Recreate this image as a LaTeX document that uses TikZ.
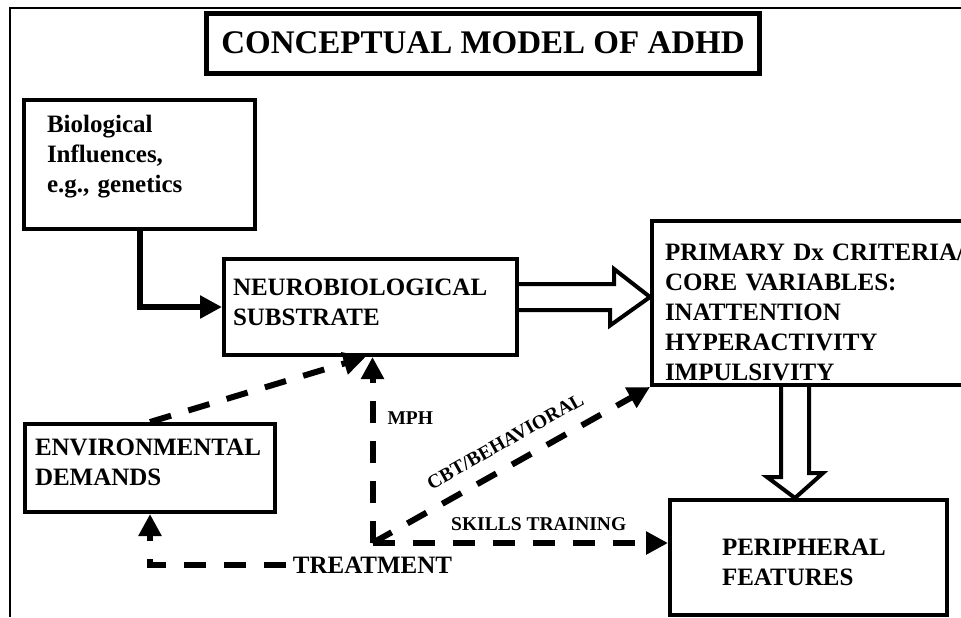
\documentclass[tikz,border=0pt]{standalone}
\usepackage{fontspec}
\setmainfont{Liberation Serif}
\usetikzlibrary{arrows.meta,calc,positioning}

\tikzset{
  box/.style={draw, line width=2pt, anchor=north west, align=left,
    inner ysep=0pt, font=\fontsize{12.5}{15}\selectfont\bfseries},
  solidarr/.style={line width=3pt, -{Triangle[length=11pt,width=11pt]}},
  dasharr/.style={line width=3pt, dash pattern=on 11pt off 9pt,
    -{Triangle[length=11pt,width=11pt]}},
  hollow/.style={draw, line width=2pt, fill=white, line join=miter},
  lbl/.style={font=\fontsize{9.75}{11}\selectfont\bfseries, inner sep=1pt},
}

\begin{document}
\begin{tikzpicture}[x=0.5pt, y=-0.5pt]
  \useasboundingbox (0,0) rectangle (961,617);
  \clip (0,0) rectangle (961,617);
  \fill[white] (0,0) rectangle (961,617);

  %% ── Frame and title ──────────────────────────────────────
  \draw[line width=1pt] (961,8) -- (10,8) -- (10,617);
  \node[draw, line width=2.5pt, minimum width=276.5pt, minimum height=30pt,
    font=\fontsize{16.5}{20}\selectfont\bfseries]
    (title) at (483,43) {CONCEPTUAL MODEL OF ADHD};

  %% ── Boxes ────────────────────────────────────────────────
  \node[box, inner xsep=11.5pt, text width=92.5pt, text height=16pt, text depth=48.5pt]
    (bio) at (22,98) {Biological\\Influences,\\e.g., genetics};
  \node[box, inner xsep=4.5pt, text width=137.5pt, text height=18pt, text depth=30pt]
    (neuro) at (222,257) {NEUROBIOLOGICAL\\SUBSTRATE};
  \node[box, inner xsep=6.5pt, text width=160pt, text height=19.5pt, text depth=62.5pt]
    (prim) at (650,219) {PRIMARY Dx CRITERIA/\\CORE VARIABLES:\\INATTENTION\\HYPERACTIVITY\\IMPULSIVITY};
  \node[box, inner xsep=5pt, text width=115pt, text height=15.5pt, text depth=28.5pt]
    (env) at (23,422) {ENVIRONMENTAL\\DEMANDS};
  \node[box, inner xsep=26pt, text width=86.5pt, text height=27.5pt, text depth=30pt]
    (peri) at (668,498) {PERIPHERAL\\FEATURES};
  \node[font=\fontsize{12.5}{15}\selectfont\bfseries, anchor=base]
    (treat) at (372.5,573) {TREATMENT};
  \coordinate (hub) at ($(treat.base)+(0,-30)$);

  %% ── Solid arrow ──────────────────────────────────────────
  \draw[solidarr] (bio.south) |- (neuro.west);

  %% ── Hollow arrows ────────────────────────────────────────
  \coordinate (ra) at ($(neuro.east)+(0,-10)$);
  \draw[hollow] ($(ra)+(0,-13)$) -- ++(95,0) -- ++(0,-15) -- (prim.west |- ra)
    -- ++(-40,28.5) -- ++(0,-15.5) -- ($(ra)+(0,13)$);
  \coordinate (da) at ($(prim.south west)+(145,0)$);
  \draw[hollow] ($(da)+(-14,0)$) -- ++(0,90) -- ++(-14,0) -- (da |- peri.north)
    -- ++(28,-25) -- ++(-14,0) -- ($(da)+(14,0)$);

  %% ── Dashed arrows ────────────────────────────────────────
  \draw[dasharr] (env.north) -- ($(neuro.south)+(-5,0)$);
  \draw[dasharr] (hub) -- (hub |- neuro.south)
    node[lbl, pos=0.67, right=5pt] (mph) {MPH};
  \draw[dasharr] (hub) -- (prim.south west)
    node[lbl, pos=0.52, sloped, above=6pt] (cbt) {CBT/BEHAVIORAL};
  \draw[dasharr] (hub) -- (peri.west |- hub)
    node[lbl, pos=0.5625, above=3.5pt] (skills) {SKILLS TRAINING};
  \draw[dasharr] (treat.west) -| (env.south);
\end{tikzpicture}
\end{document}
